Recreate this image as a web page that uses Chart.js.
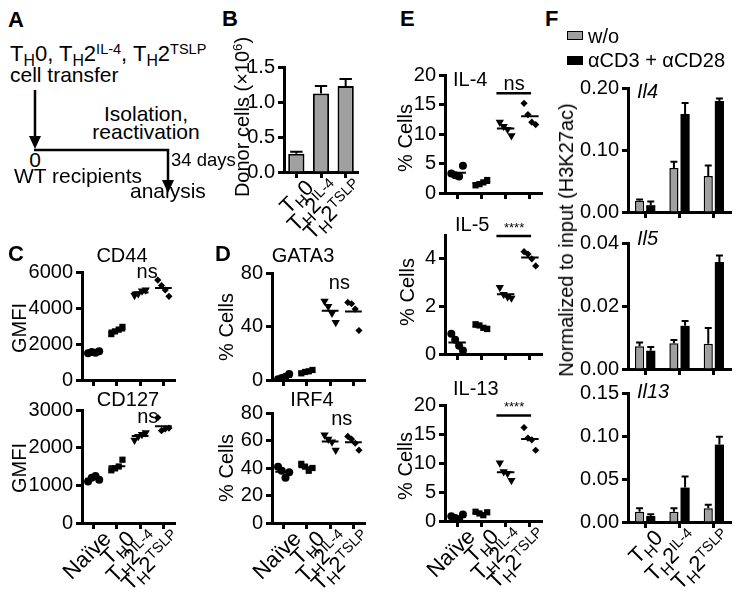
<!DOCTYPE html>
<html>
<head>
<meta charset="utf-8">
<script src="https://cdn.jsdelivr.net/npm/chart.js@4.4.0/dist/chart.umd.min.js"></script>
<style>
  html, body { margin: 0; padding: 0; background: #fff; }
  #fig { position: relative; width: 748px; height: 595px; overflow: hidden; background: #fff;
         font-family: "Liberation Sans", Arial, Helvetica, sans-serif; color: #000; }
  #fig canvas, #fig svg, .t { position: absolute; }
  .t { white-space: nowrap; line-height: 1; }
  .b { font-weight: bold; }
  .i { font-style: italic; }
  .sb { font-size: 0.72em; position: relative; top: 0.3em; }
  .sp { font-size: 0.66em; position: relative; top: -0.5em; }
  .xl { transform-origin: 100% 0; transform: rotate(-45deg); font-size: 22px; }
  .box { position: absolute; width: 14px; height: 7px; border: 1.5px solid #000; }
</style>
</head>
<body>
<div id="fig">
  <svg width="748" height="595" style="left:0;top:0">
    <line x1="35" y1="90" x2="35" y2="138" stroke="#000" stroke-width="2.5"/>
    <polygon points="29,136 41,136 35,149" fill="#000"/>
    <polyline points="34,150 168,150 168,182" fill="none" stroke="#000" stroke-width="2.5"/>
    <polygon points="162,180 174,180 168,193" fill="#000"/>
  </svg>
  <canvas id="cB"></canvas>
  <canvas id="cCD44"></canvas>
  <canvas id="cCD127"></canvas>
  <canvas id="cGATA3"></canvas>
  <canvas id="cIRF4"></canvas>
  <canvas id="cIL4"></canvas>
  <canvas id="cIL5"></canvas>
  <canvas id="cIL13"></canvas>
  <canvas id="cF4"></canvas>
  <canvas id="cF5"></canvas>
  <canvas id="cF13"></canvas>
  <div class="box" style="left:567px;top:31px;background:#a0a0a0"></div>
  <div class="box" style="left:567px;top:56px;background:#000"></div>
</div>
<script>
const FONT = '"Liberation Sans", Arial, Helvetica, sans-serif';
Chart.defaults.font.family = FONT;

// ---- data ----
const groups = ['Naïve', 'TH0', 'TH2IL-4', 'TH2TSLP'];
const transferGroups = ['TH0', 'TH2IL-4', 'TH2TSLP'];

// B: donor cells (x10^6), mean and SEM
const donorCells = [0.26, 1.12, 1.23];
const donorSem = [0.03, 0.11, 0.10];

// C: GMFI, one inner array per group (order of `groups`)
const cd44 = [[1480, 1560, 1520, 1600], [2550, 2700, 2800, 2950], [4700, 4800, 4950, 5000], [5550, 5250, 5000, 4650]];
const cd127 = [[1100, 1200, 1250, 1150], [1400, 1450, 1500, 1680], [2200, 2300, 2350, 2400], [2800, 2450, 2500, 2520]];

// D: % cells
const gata3 = [[0.5, 1.5, 2.5, 4.5], [5, 6, 6.5, 7.5], [59, 55, 50, 43], [58, 57, 53, 37]];
const irf4 = [[41, 38, 33, 37], [43, 41, 38, 40], [64, 61, 59, 53], [63, 61, 58, 53]];

// E: % cells
const il4Cells = [[3.3, 3.0, 2.8, 4.6], [1.3, 1.5, 1.8, 2.2], [12, 11.3, 10.8, 9.7], [15.2, 13.3, 12, 11.6]];
const il5Cells = [[0.85, 0.6, 0.35, 0.15], [1.25, 1.2, 1.1, 1.05], [2.8, 2.5, 2.4, 2.35], [4.3, 4.2, 4.0, 3.7]];
const il13Cells = [[0.8, 0.5, 0.3, 1.1], [1.6, 1.3, 1.0, 1.5], [10, 8.5, 8.2, 7.0], [16.1, 14.3, 14.0, 12.2]];

// F: H3K27ac normalized to input, w/o vs aCD3 + aCD28 (mean, SEM)
const il4Unstim = [0.018, 0.071, 0.058];
const il4UnstimSem = [0.002, 0.010, 0.017];
const il4Stim = [0.011, 0.158, 0.179];
const il4StimSem = [0.006, 0.018, 0.004];
const il5Unstim = [0.0072, 0.0082, 0.0080];
const il5UnstimSem = [0.0012, 0.0010, 0.0050];
const il5Stim = [0.0058, 0.0137, 0.0340];
const il5StimSem = [0.0012, 0.0015, 0.0020];
const il13Unstim = [0.012, 0.012, 0.016];
const il13UnstimSem = [0.004, 0.004, 0.004];
const il13Stim = [0.007, 0.040, 0.090];
const il13StimSem = [0.002, 0.013, 0.009];

const labelHtml = {
  'Naïve': 'Naïve',
  'TH0': 'T<span class="sb">H</span>0',
  'TH2IL-4': 'T<span class="sb">H</span>2<span class="sp">IL-4</span>',
  'TH2TSLP': 'T<span class="sb">H</span>2<span class="sp">TSLP</span>'
};

// ---- layout helpers ----
const fig = document.getElementById('fig');
const YW = 70, PT = 16, PR = 6, XH = 16;
const GRAY = '#a0a0a0';

function txt(html, x, base, size, cls, center) {
  const d = document.createElement('div');
  d.className = 't ' + (cls || '');
  d.innerHTML = html;
  d.style.fontSize = size + 'px';
  d.style.top = (base - 0.85 * size) + 'px';
  d.style.left = x + 'px';
  if (center) d.style.transform = 'translateX(-50%)';
  fig.appendChild(d);
}
function vtxt(html, cx, cy, size) {
  const d = document.createElement('div');
  d.className = 't';
  d.innerHTML = html;
  d.style.fontSize = size + 'px';
  d.style.left = cx + 'px';
  d.style.top = cy + 'px';
  d.style.transform = 'translate(-50%, -50%) rotate(-90deg)';
  fig.appendChild(d);
}

function place(id, ax) {
  const c = document.getElementById(id);
  const left = ax.x - YW, top = ax.top - PT;
  c.width = ax.right - left + PR;
  c.height = ax.bottom - top + XH;
  c.style.left = left + 'px';
  c.style.top = top + 'px';
  return c;
}

function addXLabels(chart, names) {
  const c = chart.canvas;
  const left = parseFloat(c.style.left), top = parseFloat(c.style.top);
  const sx = chart.scales.x;
  sx.ticks.forEach((t, i) => {
    const px = left + sx.getPixelForTick(i);
    const py = top + chart.chartArea.bottom;
    const d = document.createElement('div');
    d.className = 't xl';
    d.innerHTML = labelHtml[names[i]];
    d.style.right = (748 - px - 6) + 'px';
    d.style.top = (py + 4) + 'px';
    fig.appendChild(d);
  });
}

const border = { display: true, color: '#000', width: 3 };
const grid = { display: true, drawOnChartArea: false, drawTicks: true, tickLength: 6, tickWidth: 3, tickColor: '#000', offset: false };
const tickFont = { family: FONT, size: 20 };

// error bars on top of bars
const errorBars = {
  id: 'errorBars',
  afterDatasetsDraw(chart) {
    const ctx = chart.ctx, y = chart.scales.y;
    chart.data.datasets.forEach((ds, di) => {
      if (!ds.sem) return;
      chart.getDatasetMeta(di).data.forEach((bar, i) => {
        const top = y.getPixelForValue(ds.data[i] + ds.sem[i]);
        const half = bar.width * 0.38;
        ctx.save();
        ctx.strokeStyle = '#000';
        ctx.lineWidth = 2;
        ctx.beginPath();
        ctx.moveTo(bar.x, bar.y);
        ctx.lineTo(bar.x, top);
        ctx.moveTo(bar.x - half, top);
        ctx.lineTo(bar.x + half, top);
        ctx.stroke();
        ctx.restore();
      });
    });
  }
};

// significance text (and optional bar)
const sig = {
  id: 'sig',
  afterDraw(chart, args, opts) {
    if (!opts || !opts.text) return;
    const ctx = chart.ctx, x = chart.scales.x, y = chart.scales.y;
    ctx.save();
    ctx.fillStyle = '#000';
    ctx.strokeStyle = '#000';
    if (opts.line) {
      const py = y.getPixelForValue(opts.line[2]);
      ctx.lineWidth = 2.5;
      ctx.beginPath();
      ctx.moveTo(x.getPixelForValue(opts.line[0]), py);
      ctx.lineTo(x.getPixelForValue(opts.line[1]), py);
      ctx.stroke();
    }
    ctx.font = opts.size + 'px ' + FONT;
    ctx.textAlign = 'center';
    ctx.textBaseline = 'alphabetic';
    ctx.fillText(opts.text, x.getPixelForValue(opts.x), y.getPixelForValue(opts.y));
    ctx.restore();
  }
};

const markers = [
  { pointStyle: 'circle', pointRadius: 4, rotation: 0 },
  { pointStyle: 'rect', pointRadius: 4.4, rotation: 0 },
  { pointStyle: 'triangle', pointRadius: 4.8, rotation: 180 },
  { pointStyle: 'rectRot', pointRadius: 3.6, rotation: 0 }
];
const jitter = [-0.24, -0.08, 0.08, 0.24];

function scatterPanel(id, ax, values, yMax, yStep, sigOpts, labels) {
  const canvas = place(id, ax);
  const datasets = values.map((vals, g) => ({
    data: vals.map((v, j) => ({ x: g + jitter[j], y: v })),
    pointStyle: markers[g].pointStyle,
    pointRadius: markers[g].pointRadius,
    rotation: markers[g].rotation,
    backgroundColor: '#000',
    borderColor: '#000',
    borderWidth: 0
  }));
  const means = [];
  values.forEach((vals, g) => {
    const m = vals.reduce((a, b) => a + b, 0) / vals.length;
    means.push({ x: g - 0.36, y: m }, { x: g + 0.36, y: m }, { x: g, y: null });
  });
  datasets.push({ data: means, showLine: true, pointRadius: 0, borderColor: '#000', borderWidth: 2, spanGaps: false });

  const chart = new Chart(canvas, {
    type: 'scatter',
    data: { datasets },
    plugins: [sig],
    options: {
      responsive: false, animation: false, events: [],
      layout: { padding: { top: PT, right: PR, left: 0, bottom: 0 } },
      plugins: { legend: { display: false }, tooltip: { enabled: false }, sig: sigOpts },
      scales: {
        x: {
          type: 'linear', min: -0.5, max: 3.5,
          afterBuildTicks: s => { s.ticks = [0, 1, 2, 3].map(v => ({ value: v })); },
          afterFit: s => { s.height = XH; },
          ticks: { display: false }, border, grid
        },
        y: {
          min: 0, max: yMax,
          afterFit: s => { s.width = YW; },
          ticks: { stepSize: yStep, color: '#000', font: tickFont, padding: 3, callback: v => String(v) },
          border, grid
        }
      }
    }
  });
  if (labels) addXLabels(chart, groups);
  return chart;
}

function barPanel(id, ax, datasets, yMax, yStep, decimals, catPct, barPct, labels) {
  const canvas = place(id, ax);
  const chart = new Chart(canvas, {
    type: 'bar',
    data: { labels: transferGroups, datasets },
    plugins: [errorBars],
    options: {
      responsive: false, animation: false, events: [],
      layout: { padding: { top: PT, right: PR, left: 0, bottom: 0 } },
      plugins: { legend: { display: false }, tooltip: { enabled: false } },
      datasets: { bar: { categoryPercentage: catPct, barPercentage: barPct } },
      scales: {
        x: {
          afterFit: s => { s.height = XH; },
          ticks: { display: false }, border, grid
        },
        y: {
          min: 0, max: yMax,
          afterFit: s => { s.width = YW; },
          ticks: { stepSize: yStep, color: '#000', font: tickFont, padding: 3, callback: v => Number(v).toFixed(decimals) },
          border, grid
        }
      }
    }
  });
  if (labels) addXLabels(chart, transferGroups);
  return chart;
}

function pair(unstim, unstimSem, stim, stimSem) {
  return [
    { data: unstim, sem: unstimSem, backgroundColor: GRAY, borderColor: '#000', borderWidth: 1.5 },
    { data: stim, sem: stimSem, backgroundColor: '#000', borderColor: '#000', borderWidth: 0 }
  ];
}

// ---- panels ----
barPanel('cB', { x: 284, top: 67, bottom: 172, right: 358 },
  [{ data: donorCells, sem: donorSem, backgroundColor: GRAY, borderColor: '#000', borderWidth: 2 }],
  1.5, 0.5, 1, 1, 0.66, true);

scatterPanel('cCD44', { x: 82, top: 272, bottom: 380, right: 175 }, cd44, 6000, 2000, { text: 'ns', x: 2.3, y: 5650, size: 20 }, false);
scatterPanel('cCD127', { x: 82, top: 410, bottom: 523, right: 175 }, cd127, 3000, 1000, { text: 'ns', x: 2.33, y: 2650, size: 20 }, true);
scatterPanel('cGATA3', { x: 272, top: 273, bottom: 380, right: 365 }, gata3, 80, 20, { text: 'ns', x: 2.4, y: 68, size: 20 }, false);
scatterPanel('cIRF4', { x: 272, top: 413, bottom: 523, right: 365 }, irf4, 80, 20, { text: 'ns', x: 2.5, y: 71, size: 20 }, true);
scatterPanel('cIL4', { x: 445, top: 75, bottom: 193, right: 542 }, il4Cells, 20, 5, { text: 'ns', x: 2.35, y: 17.4, size: 20, line: [1.62, 3.05, 16.9] }, false);
scatterPanel('cIL5', { x: 445, top: 235, bottom: 354, right: 542 }, il5Cells, 5, 1, { text: '****', x: 2.35, y: 5.12, size: 13, line: [1.62, 3.05, 4.96] }, false);
scatterPanel('cIL13', { x: 445, top: 405, bottom: 521, right: 542 }, il13Cells, 20, 5, { text: '****', x: 2.35, y: 18.9, size: 13, line: [1.62, 3.05, 18.2] }, true);

barPanel('cF4', { x: 628, top: 88, bottom: 212, right: 731 }, pair(il4Unstim, il4UnstimSem, il4Stim, il4StimSem), 0.2, 0.1, 2, 0.65, 0.82, false);
barPanel('cF5', { x: 628, top: 243, bottom: 369, right: 731 }, pair(il5Unstim, il5UnstimSem, il5Stim, il5StimSem), 0.04, 0.02, 2, 0.65, 0.82, false);
barPanel('cF13', { x: 628, top: 393, bottom: 522, right: 731 }, pair(il13Unstim, il13UnstimSem, il13Stim, il13StimSem), 0.15, 0.05, 2, 0.65, 0.82, true);

// ---- text ----
txt('A', 8, 28, 22, 'b');
txt('T<span class="sb">H</span>0, T<span class="sb">H</span>2<span class="sp">IL-4</span>, T<span class="sb">H</span>2<span class="sp">TSLP</span>', 10, 62, 22);
txt('cell transfer', 10, 82, 21);
txt('Isolation,', 146, 121, 21, '', true);
txt('reactivation', 146, 139, 21, '', true);
txt('0', 35, 167, 21, '', true);
txt('34 days', 171, 167, 18.5);
txt('WT recipients', 14, 183, 21);
txt('analysis', 130, 198, 21);

txt('B', 222, 27, 22, 'b');
vtxt('Donor cells (×10<span class="sp">6</span>)', 242, 117, 20);

txt('C', 8, 262, 22, 'b');
txt('CD44', 122, 262, 20, '', true);
txt('CD127', 128, 406, 20, '', true);
vtxt('GMFI', 19, 328, 20);
vtxt('GMFI', 19, 468, 20);

txt('D', 215, 262, 22, 'b');
txt('GATA3', 303, 262, 20, '', true);
txt('IRF4', 312, 406, 20, '', true);
vtxt('% Cells', 226, 327, 20);
vtxt('% Cells', 226, 468, 20);

txt('E', 400, 27, 22, 'b');
txt('IL-4', 453, 86, 20);
txt('IL-5', 455, 231, 20);
txt('IL-13', 453, 395, 20);
vtxt('% Cells', 405, 138, 20);
vtxt('% Cells', 407, 292, 20);
vtxt('% Cells', 405, 466, 20);

txt('F', 545, 27, 22, 'b');
txt('w/o', 588, 43, 20);
txt('αCD3 + αCD28', 588, 67, 20);
txt('Il4', 637, 98, 20, 'i');
txt('Il5', 637, 245, 20, 'i');
txt('Il13', 637, 398, 20, 'i');
vtxt('Normalized to input (H3K27ac)', 566, 240, 20);
</script>
</body>
</html>
